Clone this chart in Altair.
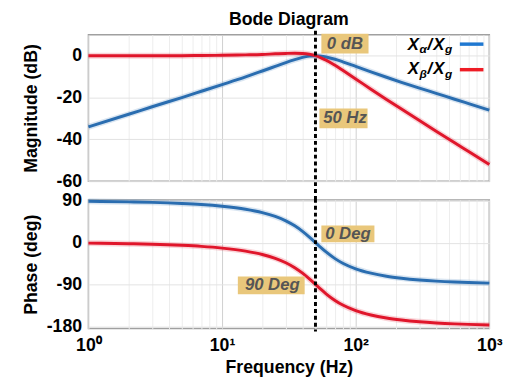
import altair as alt
import pandas as pd

# ---- data ----
freq = [1, 2, 3, 5, 7, 10, 15, 20, 25, 30, 35, 40, 45, 50, 55, 60, 70, 80, 100,
        130, 170, 220, 300, 400, 550, 700, 1000]
mag_alpha = [-34.0, -28.0, -24.4, -20.0, -17.0, -13.8, -10.1, -7.3, -5.1, -3.3, -1.9,
             -0.8, -0.2, 0.0, -0.2, -0.6, -1.7, -2.9, -5.1, -7.7, -10.3, -12.7, -15.5,
             -18.0, -20.8, -22.9, -26.0]
mag_beta = [0.0, 0.0, 0.0, 0.0, 0.1, 0.2, 0.4, 0.6, 0.9, 1.1, 1.2, 1.1, 0.7, 0.0,
            -1.0, -2.1, -4.6, -7.0, -11.1, -16.0, -20.9, -25.5, -31.0, -36.1, -41.6,
            -45.8, -52.0]
ph_alpha = [88.9, 87.7, 86.6, 84.2, 81.9, 78.2, 71.8, 64.5, 56.3, 46.9, 36.1, 24.2,
            11.9, 0.0, -10.8, -20.1, -34.4, -44.3, -56.3, -65.7, -72.2, -76.5, -80.3,
            -82.8, -84.8, -85.9, -87.1]
ph_beta = [-1.1, -2.3, -3.4, -5.8, -8.1, -11.8, -18.3, -25.5, -33.7, -43.2, -53.9,
           -65.8, -78.1, -90.0, -100.8, -110.1, -124.4, -134.3, -146.3, -155.7, -162.2,
           -166.5, -170.3, -172.8, -174.8, -175.9, -177.1]
series = ["alpha", "beta"]
marker_freq = [50]
mag_ticks = [-60, -40, -20, 0]
phase_ticks = [-180, -135, -90, -45, 0, 45, 90]
x_grid = [1, 2, 3, 4, 5, 6, 7, 8, 9, 10, 20, 30, 40, 50, 60, 70, 80, 90,
          100, 200, 300, 400, 500, 600, 700, 800, 900, 1000]

# ---- styles ----
BLUE = "#2a6db0"
RED = "#e0162b"
FONT = "Liberation Sans"
BOX = "#e9c77b"
FS = 18
W, H1, H2, GAP = 408, 149, 131, 19

n = len(freq)
df = pd.DataFrame({
    "f": freq * 2,
    "mag": mag_alpha + mag_beta,
    "ph": ph_alpha + ph_beta,
    "s": [series[0]] * n + [series[1]] * n,
})
mk = pd.DataFrame({"f": marker_freq})

xscale = alt.Scale(type="log", domain=[1, 1000], nice=False)
color = alt.Color("s:N", scale=alt.Scale(domain=series, range=[BLUE, RED]), legend=None)
grid_color = {"condition": {"test": "datum.value == 10 || datum.value == 100",
                            "value": "#cfcfcf"}, "value": "#ededed"}

x_top = alt.X("f:Q", scale=xscale, axis=alt.Axis(values=x_grid, labels=False, title=None,
                                                  gridColor=grid_color))
x_bot = alt.X("f:Q", scale=xscale, title="Frequency (Hz)",
              axis=alt.Axis(values=x_grid, gridColor=grid_color, labelFlush=False,
                            labelOverlap=False, labelPadding=8, titlePadding=5,
                            labelExpr="datum.value == 1 ? '10⁰' : datum.value == 10 ? '10¹' : "
                                      "datum.value == 100 ? '10²' : datum.value == 1000 ? '10³' : ''"))


def annot(text, dx0, dx1, py0, py1, tdx, tpy):
    box = alt.Chart(mk).mark_rect(color=BOX, xOffset=dx0, x2Offset=dx1).encode(
        x=alt.X("f:Q", scale=xscale), x2="f:Q", y=alt.value(py0), y2=alt.value(py1))
    txt = alt.Chart(mk).mark_text(text=text, font=FONT, fontSize=17, fontWeight="bold",
                                  fontStyle="italic", color="#555555", dx=tdx,
                                  baseline="middle", align="center").encode(
        x=alt.X("f:Q", scale=xscale), y=alt.value(tpy))
    return [box, txt]


def piece(text, px, py, size):
    return alt.Chart(mk).mark_text(text=text, font=FONT, fontSize=size, fontWeight="bold",
                                   fontStyle="italic", color="black", align="left",
                                   baseline="alphabetic").encode(
        x=alt.value(px), y=alt.value(py))


def legend_line(py, c):
    return alt.Chart(mk).mark_rule(color=c, strokeWidth=3.5).encode(
        x=alt.value(378), x2=alt.value(402), y=alt.value(py))


base = alt.Chart(df)

mag_lines = base.mark_line(strokeWidth=3, interpolate="monotone").encode(
    x=x_top,
    y=alt.Y("mag:Q", scale=alt.Scale(domain=[-60, 10], nice=False), title="Magnitude (dB)",
            axis=alt.Axis(values=mag_ticks, labelExpr="toString(datum.value)",
                          gridColor="#e2e2e2", titleX=-58, titleY=H1 / 2,
                          titleBaseline="middle", titleAlign="center")),
    color=color, detail="s:N")
mag_halo = base.mark_line(strokeWidth=6, opacity=0.18, interpolate="monotone").encode(
    x=alt.X("f:Q", scale=xscale), y="mag:Q", color=color, detail="s:N")

rule_top = alt.Chart(mk).mark_rule(color="black", strokeWidth=3, strokeDash=[4, 3]).encode(
    x=alt.X("f:Q", scale=xscale), y=alt.value(-4), y2=alt.value(H1 + GAP))

top_layers = [mag_halo, mag_lines, rule_top]
top_layers += annot("0 dB", 6, 54, -1, 19, 30, 9)
top_layers += annot("50 Hz", 4, 53, 75, 95, 30, 85)
top_layers += [
    piece("X", 325, 15, 17), piece("α", 337, 19, 12), piece("/", 345, 15, 17),
    piece("X", 351, 15, 17), piece("g", 363, 19, 12), legend_line(9.5, "#1f78d1"),
    piece("X", 325, 40, 17), piece("β", 337, 44, 12), piece("/", 345, 40, 17),
    piece("X", 351, 40, 17), piece("g", 363, 44, 12), legend_line(35.5, "#ee1c25"),
]

top = alt.layer(*top_layers).properties(
    width=W, height=H1,
    title=alt.TitleParams("Bode Diagram", font=FONT, fontSize=FS, fontWeight="bold",
                          anchor="middle", offset=0, color="black"))

ph_lines = base.mark_line(strokeWidth=3, interpolate="monotone").encode(
    x=x_bot,
    y=alt.Y("ph:Q", scale=alt.Scale(domain=[-185, 92], nice=False), title="Phase (deg)",
            axis=alt.Axis(values=phase_ticks,
                          labelExpr="datum.value % 90 == 0 ? toString(datum.value) : ''",
                          gridColor="#e2e2e2", titleX=-58, titleY=H2 / 2,
                          titleBaseline="middle", titleAlign="center")),
    color=color, detail="s:N")
ph_halo = base.mark_line(strokeWidth=6, opacity=0.18, interpolate="monotone").encode(
    x=alt.X("f:Q", scale=xscale), y="ph:Q", color=color, detail="s:N")
rule_bot = alt.Chart(mk).mark_rule(color="black", strokeWidth=3, strokeDash=[4, 3]).encode(
    x=alt.X("f:Q", scale=xscale), y=alt.value(-1), y2=alt.value(H2 + 3))

bot_layers = [ph_halo, ph_lines, rule_bot]
bot_layers += annot("0 Deg", 6, 60, 26, 43, 33, 34.5)
bot_layers += annot("90 Deg", -79, -11, 78, 96, -44, 87)

bottom = alt.layer(*bot_layers).properties(width=W, height=H2)

chart = alt.vconcat(top, bottom, spacing=GAP, bounds="flush").properties(
    padding={"left": 22, "top": 7, "right": 5, "bottom": 5},
    background="white",
).configure_view(stroke="#a0a0a0", strokeWidth=1.5).configure_axis(
    labelFont=FONT, labelFontSize=FS, labelFontWeight="bold", labelColor="black",
    titleFont=FONT, titleFontSize=FS, titleFontWeight="bold", titleColor="black",
    domain=False, ticks=False, labelPadding=7
)

chart.save("out.html", embed_options={"renderer": "svg", "actions": False})
